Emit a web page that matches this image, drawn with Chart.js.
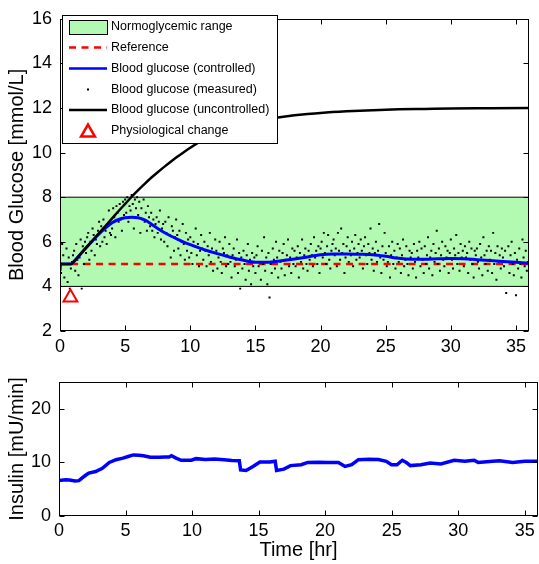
<!DOCTYPE html>
<html>
<head>
<meta charset="utf-8">
<script src="https://cdn.jsdelivr.net/npm/chart.js@4.4.1/dist/chart.umd.min.js"></script>
<style>
  html, body { margin: 0; padding: 0; background: #fff; }
  #wrap { position: relative; width: 539px; height: 564px; }
  #glucoseChart { position: absolute; left: 0; top: 0; }
  #insulinChart { position: absolute; left: 0; top: 362px; }
</style>
</head>
<body>
<div id="wrap">
  <canvas id="glucoseChart" width="539" height="362"></canvas>
  <canvas id="insulinChart" width="539" height="202"></canvas>
</div>
<script>
// axis ticks
var timeTicks = [0, 5, 10, 15, 20, 25, 30, 35];
var glucoseTicks = [2, 4, 6, 8, 10, 12, 14, 16];
var insulinTicks = [0, 10, 20];

// normoglycemic band and reference level (mmol/L)
var bandLow = 4;
var bandHigh = 8;
var refTimes = [0.85, 36];
var refValues = [5, 5];

// blood glucose, controlled (blue)
var ctrlTimes = [0, 0.05, 0.8, 1, 1.5, 2, 2.5, 3, 3.5, 4, 4.5, 5, 5.5, 6, 6.5, 7, 7.5, 8, 8.5, 9, 9.5, 10, 11, 12, 13, 14, 15, 16, 17, 18, 19, 20, 21, 22, 23, 24, 25, 26, 27, 28, 29, 30, 31, 32, 33, 34, 35, 36];
var ctrlValues = [4.7, 5.0, 5.0, 5.08, 5.4, 5.73, 6.05, 6.35, 6.62, 6.85, 7.0, 7.08, 7.1, 7.08, 6.98, 6.8, 6.6, 6.42, 6.26, 6.12, 5.99, 5.87, 5.66, 5.48, 5.32, 5.18, 5.08, 5.08, 5.15, 5.23, 5.32, 5.42, 5.45, 5.45, 5.44, 5.42, 5.35, 5.26, 5.22, 5.22, 5.24, 5.25, 5.24, 5.2, 5.16, 5.12, 5.08, 5.04];

// blood glucose, uncontrolled (black)
var unctrlTimes = [0, 0.85, 1, 1.5, 2, 2.5, 3, 3.5, 4, 4.5, 5, 5.5, 6, 6.5, 7, 7.5, 8, 8.5, 9, 9.5, 10, 11, 12, 13, 14, 15, 16, 17, 18, 19, 20, 22, 24, 26, 28, 30, 33, 36];
var unctrlValues = [5.0, 5.0, 5.08, 5.4, 5.73, 6.06, 6.39, 6.72, 7.05, 7.38, 7.7, 8.02, 8.32, 8.6, 8.87, 9.12, 9.36, 9.59, 9.81, 10.02, 10.22, 10.58, 10.88, 11.12, 11.3, 11.43, 11.52, 11.6, 11.67, 11.73, 11.78, 11.85, 11.9, 11.94, 11.96, 11.98, 11.99, 12.0];

// CGM samples every 5 min (one row per hour)
var sampleStep = 1 / 12;
var measuredValues = [
  5.2, 4.6, 5.9, 5.4, 4.4, 5.0, 5.7, 4.2, 5.3, 3.9, 4.8, 5.1,
  5.4, 5.6, 4.7, 5.9, 5.2, 4.5, 5.3, 6.1, 3.9, 5.8, 5.0, 6.0,
  5.5, 6.2, 6.4, 5.2, 6.0, 5.6, 6.6, 6.3, 5.4, 6.1, 5.9, 6.5,
  6.9, 5.8, 6.7, 6.0, 7.0, 6.2, 6.5, 5.9, 6.8, 7.4, 6.4, 6.3,
  6.6, 7.5, 7.1, 6.2, 7.6, 7.3, 6.9, 7.7, 7.0, 6.5, 7.8, 7.2,
  7.9, 7.3, 8.0, 6.9, 7.6, 7.4, 8.1, 7.7, 6.6, 7.9, 7.5, 8.0,
  7.2, 7.8, 6.4, 7.5, 7.0, 7.9, 6.9, 7.3, 6.5, 7.6, 7.1, 6.7,
  7.3, 6.5, 7.0, 6.2, 6.8, 7.1, 6.4, 6.9, 7.4, 6.1, 6.6, 6.8,
  6.0, 6.9, 6.4, 5.8, 7.1, 6.3, 5.3, 6.7, 6.5, 5.6, 6.2, 7.0,
  6.3, 5.7, 6.5, 5.4, 6.0, 6.8, 5.9, 5.2, 6.4, 5.6, 6.1, 5.3,
  6.2, 5.5, 5.0, 6.0, 5.8, 6.6, 5.4, 5.9, 4.9, 5.6, 6.3, 5.7,
  5.2, 6.0, 5.6, 4.9, 5.8, 5.4, 6.4, 5.1, 5.7, 4.7, 5.5, 6.1,
  5.6, 4.8, 5.3, 6.0, 5.1, 4.6, 5.7, 5.5, 6.2, 4.9, 5.4, 5.0,
  5.9, 5.1, 4.4, 5.4, 5.7, 4.9, 5.2, 6.1, 4.6, 5.5, 3.9, 5.3,
  4.8, 5.6, 5.0, 4.3, 5.4, 5.9, 4.7, 5.2, 4.1, 5.5, 4.9, 5.3,
  4.6, 5.4, 5.8, 4.9, 5.1, 4.3, 5.6, 5.0, 6.2, 4.7, 5.3, 4.1,
  5.5, 3.5, 5.0, 4.6, 5.7, 5.2, 4.8, 6.0, 5.3, 4.4, 5.6, 5.1,
  4.8, 5.5, 5.9, 4.5, 5.2, 5.4, 6.1, 4.9, 5.3, 4.6, 5.7, 5.0,
  5.6, 4.9, 5.3, 5.8, 4.4, 5.5, 5.1, 6.1, 4.8, 5.4, 5.7, 5.0,
  4.7, 5.6, 5.2, 5.9, 5.4, 4.9, 6.2, 5.3, 5.6, 5.0, 5.8, 4.6,
  5.7, 6.0, 5.3, 6.4, 5.5, 5.0, 5.8, 6.3, 5.2, 4.8, 5.6, 5.9,
  6.1, 5.4, 5.7, 4.9, 6.4, 5.6, 5.2, 6.6, 5.5, 5.9, 4.6, 5.3,
  5.8, 6.2, 5.1, 5.6, 5.4, 6.0, 4.9, 5.7, 6.3, 5.2, 5.5, 5.9,
  5.3, 6.1, 5.6, 4.8, 5.8, 6.2, 5.4, 5.0, 5.9, 5.5, 6.6, 5.2,
  5.7, 4.7, 5.5, 6.0, 5.1, 5.6, 6.8, 5.3, 4.6, 5.8, 5.2, 6.4,
  5.5, 4.9, 5.1, 5.8, 4.4, 5.4, 6.0, 5.0, 5.6, 4.8, 5.3, 5.9,
  5.1, 5.7, 4.6, 5.4, 6.1, 4.9, 5.2, 5.8, 5.0, 4.5, 5.6, 5.3,
  5.5, 4.8, 5.9, 5.1, 4.4, 5.6, 5.3, 6.0, 4.9, 5.7, 5.2, 4.6,
  5.8, 5.0, 5.4, 6.2, 4.8, 5.3, 5.6, 4.5, 5.9, 5.1, 5.5, 6.5,
  5.0, 5.7, 4.7, 5.4, 6.0, 5.2, 4.9, 5.8, 5.3, 5.6, 4.6, 5.5,
  6.1, 5.2, 4.8, 5.7, 5.4, 6.3, 5.0, 5.5, 4.7, 5.9, 5.3, 5.6,
  4.9, 5.8, 5.3, 5.5, 4.6, 6.0, 5.2, 5.7, 5.0, 4.4, 5.6, 5.4,
  5.7, 5.1, 4.8, 5.9, 5.3, 4.5, 6.2, 5.4, 5.0, 5.6, 4.7, 5.8,
  5.2, 5.6, 4.6, 6.4, 5.0, 5.5, 4.3, 5.8, 5.1, 5.4, 4.8, 5.7,
  5.3, 4.9, 5.6, 3.7, 5.1, 5.8, 4.6, 5.4, 6.0, 5.0, 4.5, 5.5,
  3.6, 5.2, 4.8, 5.7, 5.0, 4.4, 6.1, 5.3, 4.9, 5.6, 4.7, 5.1
];

// physiological change marker
var physioTimes = [0.8];
var physioValues = [3.5];

// insulin infusion (mU/min)
var insulinTimes = [0, 0.5, 0.8, 1.2, 1.5, 1.72, 2.0, 2.24, 2.75, 3.26, 3.78, 4.29, 4.8, 5.2, 5.58, 6.0, 6.35, 6.86, 7.5, 8.0, 8.28, 8.45, 8.8, 9.18, 9.95, 10.3, 11.0, 11.7, 12.4, 13.0, 13.55, 13.65, 14.06, 14.58, 15.1, 15.86, 16.25, 16.35, 16.9, 17.4, 18.2, 18.7, 19.5, 20.2, 21.0, 21.5, 22.0, 22.5, 23.3, 24.0, 24.6, 24.99, 25.4, 25.8, 26.1, 26.4, 27.2, 27.9, 28.7, 29.7, 30.5, 31.2, 31.5, 32.6, 33.1, 34.1, 35.0, 36];
var insulinValues = [6.6, 6.75, 6.7, 6.55, 6.6, 7.06, 7.6, 8.0, 8.3, 8.9, 10.0, 10.5, 10.8, 11.1, 11.4, 11.35, 11.25, 10.95, 10.95, 11.0, 11.0, 11.25, 10.8, 10.4, 10.4, 10.7, 10.55, 10.65, 10.5, 10.35, 10.3, 8.6, 8.5, 9.25, 10.06, 10.06, 10.2, 8.5, 8.75, 9.4, 9.56, 10.0, 10.05, 10.0, 10.0, 9.25, 9.56, 10.5, 10.6, 10.55, 10.2, 9.56, 9.56, 10.4, 10.0, 9.4, 9.56, 9.9, 9.7, 10.4, 10.2, 10.4, 10.0, 10.2, 10.3, 10.0, 10.2, 10.2];

var legendLabels = ["Normoglycemic range", "Reference", "Blood glucose (controlled)", "Blood glucose (measured)", "Blood glucose (uncontrolled)", "Physiological change"];

var FONT = "'Liberation Sans', Arial, Helvetica, sans-serif";
var tickFont = { family: FONT, size: 18 };
var titleFont = { family: FONT, size: 20 };
var GREEN = "rgb(178, 250, 178)";

function toPoints(xs, ys) {
  return xs.map(function(x, i) { return { x: x, y: ys[i] }; });
}

// box around the plot area with inward tick marks on all four sides
var axesFrame = {
  id: "axesFrame",
  afterDatasetsDraw: function(chart) {
    var ctx = chart.ctx, a = chart.chartArea, sx = chart.scales.x, sy = chart.scales.y;
    var L = Math.round(a.left) + 0.5, R = Math.round(a.right) - 0.5;
    var T = Math.round(a.top) + 0.5, B = Math.round(a.bottom) - 0.5;
    ctx.save();
    ctx.strokeStyle = "#000";
    ctx.lineWidth = 1;
    ctx.beginPath();
    sx.ticks.forEach(function(t) {
      var px = Math.round(sx.getPixelForValue(t.value)) + 0.5;
      ctx.moveTo(px, B); ctx.lineTo(px, B - 5);
      ctx.moveTo(px, T); ctx.lineTo(px, T + 5);
    });
    sy.ticks.forEach(function(t) {
      var py = Math.round(sy.getPixelForValue(t.value)) + 0.5;
      ctx.moveTo(L, py); ctx.lineTo(L + 5, py);
      ctx.moveTo(R, py); ctx.lineTo(R - 5, py);
    });
    ctx.stroke();
    ctx.strokeRect(L, T, R - L, B - T);
    ctx.restore();
  }
};

// legend box drawn inside the top-left corner of the glucose plot
var glucoseLegend = {
  id: "glucoseLegend",
  afterDatasetsDraw: function(chart) {
    var ctx = chart.ctx;
    var x0 = 62, y0 = 15, w = 215, h = 128;
    var symL = 69, symR = 107, symC = 88, textX = 111;
    var rows = [27, 47.5, 68.5, 89.5, 110, 130.5];
    ctx.save();
    ctx.fillStyle = "#fff";
    ctx.fillRect(x0, y0, w, h);
    ctx.strokeStyle = "#000";
    ctx.lineWidth = 1;
    ctx.strokeRect(x0 + 0.5, y0 + 0.5, w, h);

    // range patch
    ctx.fillStyle = GREEN;
    ctx.fillRect(symL, rows[0] - 7, symR - symL, 14);
    ctx.strokeRect(symL + 0.5, rows[0] - 7 + 0.5, symR - symL, 14);

    // reference
    ctx.strokeStyle = "#ff0000";
    ctx.lineWidth = 2.5;
    ctx.setLineDash([7, 5.5]);
    ctx.beginPath(); ctx.moveTo(symL, rows[1]); ctx.lineTo(symR, rows[1]); ctx.stroke();
    ctx.setLineDash([]);

    // controlled
    ctx.strokeStyle = "#0000ff";
    ctx.lineWidth = 2.5;
    ctx.beginPath(); ctx.moveTo(symL, rows[2]); ctx.lineTo(symR, rows[2]); ctx.stroke();

    // measured
    ctx.fillStyle = "#000";
    ctx.fillRect(symC - 1, rows[3] - 1, 2, 2);

    // uncontrolled
    ctx.strokeStyle = "#000";
    ctx.lineWidth = 2.5;
    ctx.beginPath(); ctx.moveTo(symL, rows[4]); ctx.lineTo(symR, rows[4]); ctx.stroke();

    // physiological change
    ctx.strokeStyle = "#ff0000";
    ctx.fillStyle = "rgba(0,0,0,0)";
    Chart.helpers.drawPoint(ctx, { pointStyle: "triangle", rotation: 0, radius: 8, borderWidth: 2 }, symC, rows[5] + 2);

    ctx.fillStyle = "#000";
    ctx.font = "12.5px " + FONT;
    ctx.textBaseline = "middle";
    ctx.textAlign = "left";
    legendLabels.forEach(function(label, i) {
      ctx.fillText(label, textX, rows[i]);
    });
    ctx.restore();
  }
};

function xScale(height, pad) {
  return {
    type: "linear",
    min: 0,
    max: 36,
    afterBuildTicks: function(s) { s.ticks = timeTicks.map(function(v) { return { value: v }; }); },
    afterFit: function(s) { s.height = height; },
    grid: { display: false, drawTicks: false },
    border: { display: false },
    ticks: { color: "#000", font: tickFont, padding: pad, autoSkip: false, maxRotation: 0 }
  };
}

function yScale(min, max, tickValues, width, title) {
  return {
    type: "linear",
    min: min,
    max: max,
    afterBuildTicks: function(s) { s.ticks = tickValues.map(function(v) { return { value: v }; }); },
    afterFit: function(s) { s.width = width; },
    grid: { display: false, drawTicks: false },
    border: { display: false },
    ticks: { color: "#000", font: tickFont, padding: 8, autoSkip: false },
    title: { display: true, text: title, color: "#000", font: titleFont, padding: { top: 5, bottom: 0 } }
  };
}

var glucoseChart = new Chart(document.getElementById("glucoseChart").getContext("2d"), {
  type: "line",
  data: {
    datasets: [
      {
        // physiological change
        data: toPoints(physioTimes, physioValues),
        showLine: false,
        pointStyle: "triangle",
        pointRadius: 8,
        pointBorderWidth: 2,
        pointBorderColor: "#ff0000",
        pointBackgroundColor: "rgba(0,0,0,0)"
      },
      {
        // uncontrolled
        data: toPoints(unctrlTimes, unctrlValues),
        borderColor: "#000",
        borderWidth: 2.5,
        pointRadius: 0,
        cubicInterpolationMode: "monotone"
      },
      {
        // controlled
        data: toPoints(ctrlTimes, ctrlValues),
        borderColor: "#0000ff",
        borderWidth: 3,
        pointRadius: 0,
        cubicInterpolationMode: "monotone"
      },
      {
        // measured
        data: measuredValues.map(function(v, i) { return { x: i * sampleStep, y: v }; }),
        showLine: false,
        pointStyle: "rect",
        pointRadius: 1.4,
        pointBorderWidth: 0,
        pointBackgroundColor: "#000"
      },
      {
        // reference
        data: toPoints(refTimes, refValues),
        borderColor: "#ff0000",
        borderWidth: 2.5,
        borderDash: [7, 5.5],
        pointRadius: 0
      },
      {
        // lower edge of range
        data: [{ x: 0, y: bandLow }, { x: 36, y: bandLow }],
        borderColor: "#000",
        borderWidth: 1,
        pointRadius: 0
      },
      {
        // normoglycemic range
        data: [{ x: 0, y: bandHigh }, { x: 36, y: bandHigh }],
        borderColor: "#000",
        borderWidth: 1,
        pointRadius: 0,
        backgroundColor: GREEN,
        fill: { value: bandLow }
      }
    ]
  },
  options: {
    responsive: false,
    animation: false,
    events: [],
    layout: { padding: { top: 12, right: 1, left: 0, bottom: 0 } },
    scales: {
      x: xScale(31, 5),
      y: yScale(2, 16, glucoseTicks, 60, "Blood Glucose [mmol/L]")
    },
    plugins: {
      legend: { display: false },
      tooltip: { enabled: false }
    }
  },
  plugins: [axesFrame, glucoseLegend]
});

var insulinX = xScale(48, 4);
insulinX.title = { display: true, text: "Time [hr]", color: "#000", font: titleFont, padding: { top: 0, bottom: 2 } };

var insulinChart = new Chart(document.getElementById("insulinChart").getContext("2d"), {
  type: "line",
  data: {
    datasets: [{
      data: toPoints(insulinTimes, insulinValues),
      borderColor: "#0000ff",
      borderWidth: 3.5,
      pointRadius: 0,
      tension: 0
    }]
  },
  options: {
    responsive: false,
    animation: false,
    events: [],
    layout: { padding: { top: 20, right: 1, left: 0, bottom: 0 } },
    scales: {
      x: insulinX,
      y: yScale(0, 25, insulinTicks, 59, "Insulin [mU/min]")
    },
    plugins: {
      legend: { display: false },
      tooltip: { enabled: false }
    }
  },
  plugins: [axesFrame]
});
</script>
</body>
</html>
